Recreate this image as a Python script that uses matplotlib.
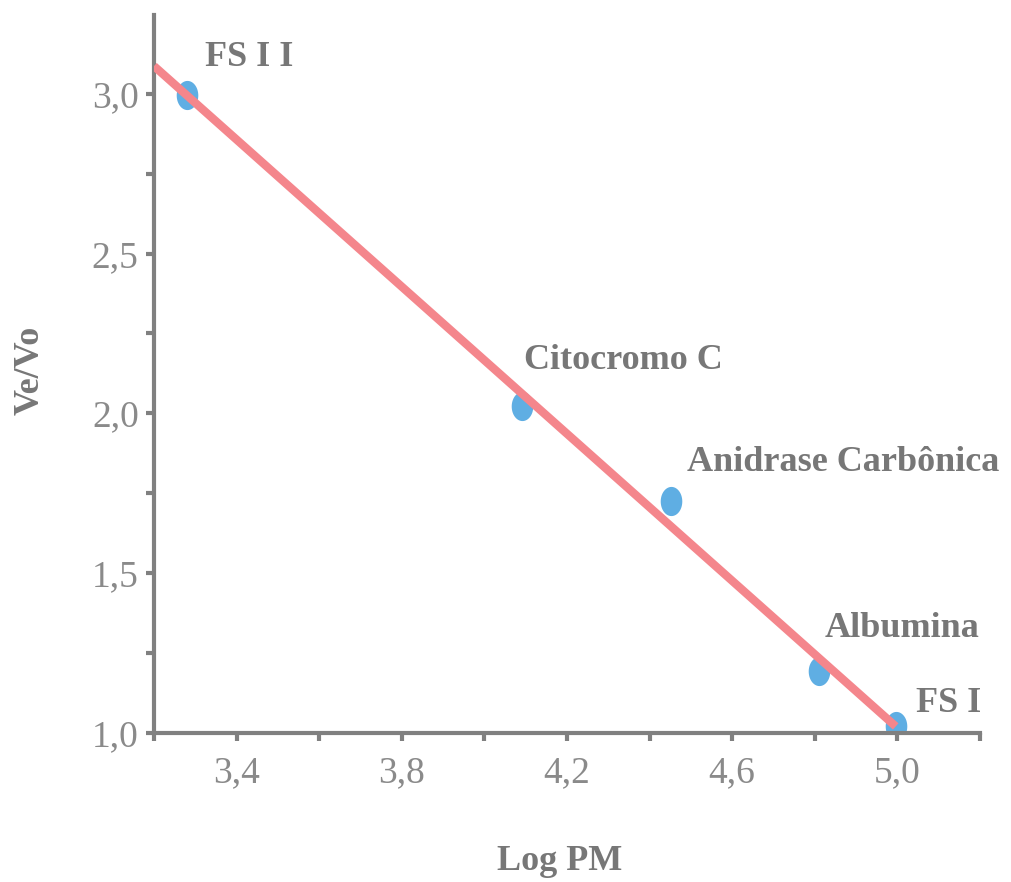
import numpy as np
import matplotlib
matplotlib.use("Agg")
import matplotlib.pyplot as plt
from matplotlib.path import Path

# data
proteins = ["FS I I", "Citocromo C", "Anidrase Carbônica", "Albumina", "FS I"]
log_pm = [3.28, 4.09, 4.453, 4.81, 4.996]
ve_vo = [2.995, 2.022, 1.726, 1.193, 1.022]

x_ticks = [3.2, 3.4, 3.6, 3.8, 4.0, 4.2, 4.4, 4.6, 4.8, 5.0, 5.2]
x_labels = ["", "3,4", "", "3,8", "", "4,2", "", "4,6", "", "5,0", ""]
y_ticks = [1.0, 1.25, 1.5, 1.75, 2.0, 2.25, 2.5, 2.75, 3.0]
y_labels = ["1,0", "", "1,5", "", "2,0", "", "2,5", "", "3,0"]

# label offsets (points) from each dot
offsets = [(13, 27), (2, 33), (11.5, 28), (4.3, 31), (14.4, 16)]

gray = "#808080"
text_gray = "#777777"
serif = "Liberation Serif"

fig = plt.figure(figsize=(10.11, 8.82), dpi=100)
ax = fig.add_axes([0.1523, 0.1689, 0.817, 0.814])

# tall elliptical marker, like the hand-placed dots
t = np.linspace(0, 2 * np.pi, 60)
ell = Path(np.column_stack([0.74 * np.cos(t), np.sin(t)]), closed=True)

ax.plot(log_pm, ve_vo, linestyle="none", marker=ell, markersize=21,
        color="#5FAEE3", markeredgewidth=0, zorder=2)

# regression line
slope, intercept = np.polyfit(log_pm, ve_vo, 1)
ax.set_xlim(3.2, 5.2)
ax.set_ylim(1.0, 3.246)
xx = np.array([3.2, max(log_pm)])
ax.plot(xx, intercept + slope * xx, color="#F4868C", linewidth=6,
        solid_capstyle="butt", zorder=3)

for name, x, y, off in zip(proteins, log_pm, ve_vo, offsets):
    ax.annotate(name, (x, y), xytext=off, textcoords="offset points",
                ha="left", va="center", fontsize=26, fontweight="bold",
                family=serif, color=text_gray, annotation_clip=False)

ax.spines["top"].set_visible(False)
ax.spines["right"].set_visible(False)
for s in ["left", "bottom"]:
    ax.spines[s].set_color(gray)
    ax.spines[s].set_linewidth(3)

ax.set_xticks(x_ticks)
ax.set_xticklabels(x_labels)
ax.set_yticks(y_ticks)
ax.set_yticklabels(y_labels)
ax.tick_params(direction="out", length=6, width=3, color=gray,
               labelcolor="#8a8a8a", labelsize=27)
ax.tick_params(axis="x", pad=10)
ax.tick_params(axis="y", pad=5)
for lab in ax.get_xticklabels() + ax.get_yticklabels():
    lab.set_family(serif)

fig.text(0.0297, 0.5805, "Ve/Vo", rotation=90, ha="center", va="center",
         fontsize=26, fontweight="bold", family=serif, color=text_gray)
fig.text(0.554, 0.0227, "Log PM", ha="center", va="center",
         fontsize=26, fontweight="bold", family=serif, color=text_gray)

fig.savefig("out.png", dpi=100)
